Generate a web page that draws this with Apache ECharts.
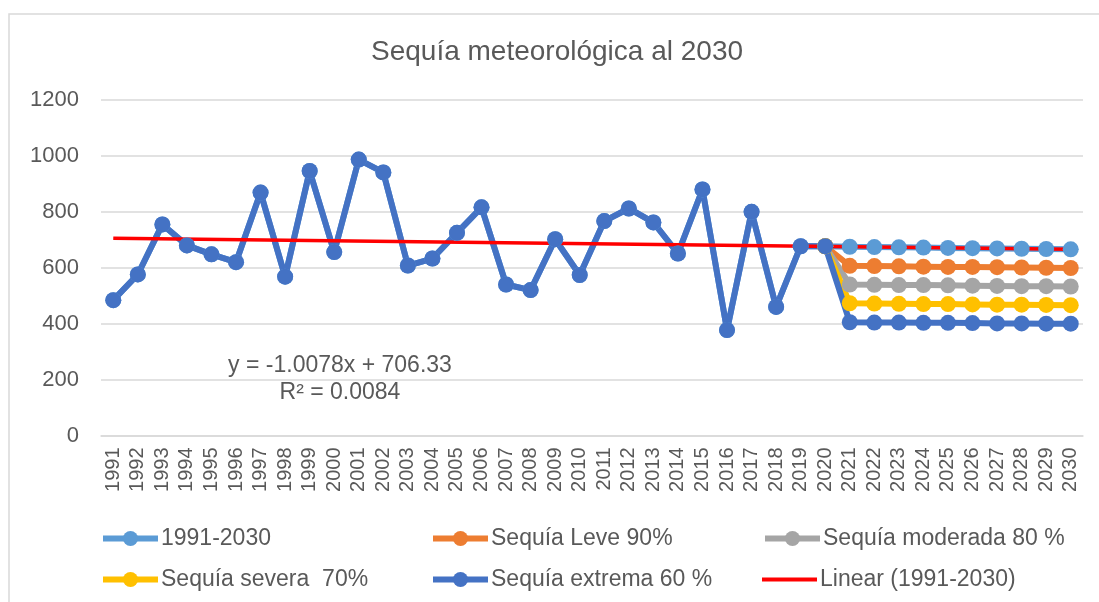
<!DOCTYPE html>
<html lang="es">
<head>
    <meta charset="UTF-8">
    <title>Sequía meteorológica al 2030</title>
    <script src="https://cdn.jsdelivr.net/npm/echarts@6/dist/echarts.min.js"></script>
    <style>
        html, body { margin: 0; padding: 0; background: #ffffff; }
        #main { width: 1099px; height: 602px; }
    </style>
</head>
<body>
    <div id="main"></div>
    <script>
        var years = [];
        for (var y = 1991; y <= 2030; y++) years.push(String(y));

        // valores 1991-2020
        var historico = [484, 576, 755, 680, 648, 620, 869, 568, 946, 656,
                         987, 941, 608, 633, 725, 816, 540, 520, 702, 574,
                         767, 812, 762, 651, 880, 377, 800, 460, 677, 677];
        // 2021-2030
        var proyeccion = [675, 674, 673, 672, 671, 670, 669, 668, 667, 666];
        var leve90     = [607, 606, 605, 604, 603, 603, 602, 601, 600, 599];
        var moderada80 = [540, 539, 538, 538, 537, 536, 535, 534, 534, 533];
        var severa70   = [473, 472, 471, 470, 470, 469, 468, 468, 467, 466];
        var extrema60  = [405, 404, 404, 403, 403, 402, 401, 401, 400, 400];
        // linea de tendencia: y = -1.0078x + 706.33 (x=1 .. 40)
        var tendencia = [705.32, 666.02];

        var nombres = ['1991-2030', 'Sequía Leve 90%', 'Sequía moderada 80 %',
                       'Sequía severa  70%', 'Sequía extrema 60 %', 'Linear (1991-2030)'];
        var colores = ['#5B9BD5', '#ED7D31', '#A5A5A5', '#FFC000', '#4472C4', '#FF0000'];

        var fuente = 'Liberation Sans, Arial, sans-serif';
        var gris = '#595959';

        // escenarios: vacio hasta 2019, arrancan en el valor de 2020
        function escenario(vals) {
            var d = [];
            for (var i = 0; i < historico.length - 1; i++) d.push(null);
            d.push(historico[historico.length - 1]);
            return d.concat(vals);
        }
        var lineaTend = [tendencia[0]];
        for (var i = 1; i < years.length - 1; i++) lineaTend.push(null);
        lineaTend.push(tendencia[1]);

        function serie(idx, data) {
            return {
                name: nombres[idx],
                type: 'line',
                data: data,
                symbol: 'circle',
                symbolSize: 16,
                showAllSymbol: true,
                color: colores[idx],
                lineStyle: { width: 6, color: colores[idx] },
                itemStyle: { color: colores[idx] },
                emphasis: { disabled: true },
                animation: false
            };
        }

        var legendPos = [[100, 527], [430, 527], [762, 527], [100, 568], [430, 568], [762, 568]];
        var legends = nombres.map(function (n, i) {
            var esTend = (i === 5);
            return {
                data: esTend ? [{ name: n, icon: 'rect' }] : [n],
                left: legendPos[i][0],
                top: legendPos[i][1],
                padding: 0,
                itemWidth: 55,
                itemHeight: esTend ? 4 : 19,
                itemGap: 0,
                lineStyle: { width: 6 },
                textStyle: { color: gris, fontSize: 23, fontFamily: fuente, padding: [0, 0, 0, -2] }
            };
        });

        var myChart = echarts.init(document.getElementById('main'));
        var option = {
            backgroundColor: '#ffffff',
            title: {
                text: 'Sequía meteorológica al 2030',
                left: 371,
                top: 38,
                padding: 0,
                textStyle: { color: gris, fontSize: 28, fontWeight: 'normal', fontFamily: fuente }
            },
            legend: legends,
            grid: { left: 101, right: 16, top: 100, bottom: 166.5 },
            xAxis: {
                type: 'category',
                data: years,
                boundaryGap: true,
                axisLine: { show: true, lineStyle: { color: '#D9D9D9', width: 1.5 } },
                axisTick: { show: false },
                axisLabel: {
                    interval: 0,
                    rotate: 90,
                    margin: 12,
                    color: gris,
                    fontSize: 20,
                    fontFamily: fuente
                }
            },
            yAxis: {
                type: 'value',
                min: 0,
                max: 1200,
                interval: 200,
                axisLine: { show: false },
                axisTick: { show: false },
                splitLine: { lineStyle: { color: '#D9D9D9', width: 1.5 } },
                axisLabel: {
                    margin: 22, color: gris, fontSize: 22, fontFamily: fuente,
                    formatter: function (v) { return String(v); }
                }
            },
            graphic: [
                {
                    type: 'rect',
                    z: -10,
                    shape: { x: 9, y: 14, width: 1200, height: 700 },
                    style: { fill: 'none', stroke: '#D9D9D9', lineWidth: 1.5 }
                },
                {
                    type: 'text',
                    x: 340, y: 366,
                    style: { text: 'y = -1.0078x + 706.33', fill: gris, font: '23px ' + fuente, textAlign: 'center', textVerticalAlign: 'middle' }
                },
                {
                    type: 'text',
                    x: 340, y: 393,
                    style: { text: 'R² = 0.0084', fill: gris, font: '23px ' + fuente, textAlign: 'center', textVerticalAlign: 'middle' }
                }
            ],
            series: [
                serie(0, historico.concat(proyeccion)),
                serie(1, escenario(leve90)),
                serie(2, escenario(moderada80)),
                serie(3, escenario(severa70)),
                serie(4, historico.concat(extrema60)),
                {
                    name: nombres[5],
                    type: 'line',
                    data: lineaTend,
                    connectNulls: true,
                    symbol: 'none',
                    color: colores[5],
                    lineStyle: { width: 3.5, color: colores[5] },
                    emphasis: { disabled: true },
                    animation: false
                }
            ]
        };
        myChart.setOption(option);
    </script>
</body>
</html>
